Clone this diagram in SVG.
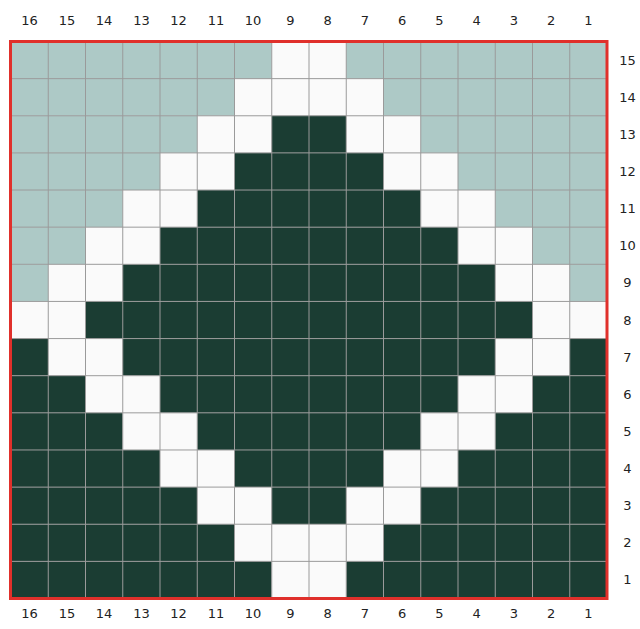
<svg xmlns="http://www.w3.org/2000/svg" width="640" height="629" viewBox="0 0 640 629">
<style>
.t{fill:#adc9c6}
.w{fill:#fafafa}
.d{fill:#1b3d33}
.lbl{font-family:"DejaVu Sans","Liberation Sans",sans-serif;font-size:13px;fill:#222;text-anchor:middle}
.gl{stroke:#9a9a9a;stroke-width:1;fill:none}
</style>
<rect width="640" height="629" fill="#ffffff"/>
<g id="cells">
<!-- row 15 -->
<rect class="t" x="11" y="41.5" width="260.75" height="37.13"/>
<rect class="w" x="271.75" y="41.5" width="74.5" height="37.13"/>
<rect class="t" x="346.25" y="41.5" width="260.75" height="37.13"/>
<!-- row 14 -->
<rect class="t" x="11" y="78.63" width="223.5" height="37.13"/>
<rect class="w" x="234.5" y="78.63" width="149" height="37.13"/>
<rect class="t" x="383.5" y="78.63" width="223.5" height="37.13"/>
<!-- row 13 -->
<rect class="t" x="11" y="115.77" width="186.25" height="37.13"/>
<rect class="w" x="197.25" y="115.77" width="74.5" height="37.13"/>
<rect class="d" x="271.75" y="115.77" width="74.5" height="37.13"/>
<rect class="w" x="346.25" y="115.77" width="74.5" height="37.13"/>
<rect class="t" x="420.75" y="115.77" width="186.25" height="37.13"/>
<!-- row 12 -->
<rect class="t" x="11" y="152.9" width="149" height="37.13"/>
<rect class="w" x="160" y="152.9" width="74.5" height="37.13"/>
<rect class="d" x="234.5" y="152.9" width="149" height="37.13"/>
<rect class="w" x="383.5" y="152.9" width="74.5" height="37.13"/>
<rect class="t" x="458" y="152.9" width="149" height="37.13"/>
<!-- row 11 -->
<rect class="t" x="11" y="190.03" width="111.75" height="37.13"/>
<rect class="w" x="122.75" y="190.03" width="74.5" height="37.13"/>
<rect class="d" x="197.25" y="190.03" width="223.5" height="37.13"/>
<rect class="w" x="420.75" y="190.03" width="74.5" height="37.13"/>
<rect class="t" x="495.25" y="190.03" width="111.75" height="37.13"/>
<!-- row 10 -->
<rect class="t" x="11" y="227.17" width="74.5" height="37.13"/>
<rect class="w" x="85.5" y="227.17" width="74.5" height="37.13"/>
<rect class="d" x="160" y="227.17" width="298" height="37.13"/>
<rect class="w" x="458" y="227.17" width="74.5" height="37.13"/>
<rect class="t" x="532.5" y="227.17" width="74.5" height="37.13"/>
<!-- row 9 -->
<rect class="t" x="11" y="264.3" width="37.25" height="37.13"/>
<rect class="w" x="48.25" y="264.3" width="74.5" height="37.13"/>
<rect class="d" x="122.75" y="264.3" width="372.5" height="37.13"/>
<rect class="w" x="495.25" y="264.3" width="74.5" height="37.13"/>
<rect class="t" x="569.75" y="264.3" width="37.25" height="37.13"/>
<!-- row 8 -->
<rect class="w" x="11" y="301.43" width="74.5" height="37.13"/>
<rect class="d" x="85.5" y="301.43" width="447" height="37.13"/>
<rect class="w" x="532.5" y="301.43" width="74.5" height="37.13"/>
<!-- row 7 -->
<rect class="d" x="11" y="338.57" width="37.25" height="37.13"/>
<rect class="w" x="48.25" y="338.57" width="74.5" height="37.13"/>
<rect class="d" x="122.75" y="338.57" width="372.5" height="37.13"/>
<rect class="w" x="495.25" y="338.57" width="74.5" height="37.13"/>
<rect class="d" x="569.75" y="338.57" width="37.25" height="37.13"/>
<!-- row 6 -->
<rect class="d" x="11" y="375.7" width="74.5" height="37.13"/>
<rect class="w" x="85.5" y="375.7" width="74.5" height="37.13"/>
<rect class="d" x="160" y="375.7" width="298" height="37.13"/>
<rect class="w" x="458" y="375.7" width="74.5" height="37.13"/>
<rect class="d" x="532.5" y="375.7" width="74.5" height="37.13"/>
<!-- row 5 -->
<rect class="d" x="11" y="412.83" width="111.75" height="37.13"/>
<rect class="w" x="122.75" y="412.83" width="74.5" height="37.13"/>
<rect class="d" x="197.25" y="412.83" width="223.5" height="37.13"/>
<rect class="w" x="420.75" y="412.83" width="74.5" height="37.13"/>
<rect class="d" x="495.25" y="412.83" width="111.75" height="37.13"/>
<!-- row 4 -->
<rect class="d" x="11" y="449.97" width="149" height="37.13"/>
<rect class="w" x="160" y="449.97" width="74.5" height="37.13"/>
<rect class="d" x="234.5" y="449.97" width="149" height="37.13"/>
<rect class="w" x="383.5" y="449.97" width="74.5" height="37.13"/>
<rect class="d" x="458" y="449.97" width="149" height="37.13"/>
<!-- row 3 -->
<rect class="d" x="11" y="487.1" width="186.25" height="37.13"/>
<rect class="w" x="197.25" y="487.1" width="74.5" height="37.13"/>
<rect class="d" x="271.75" y="487.1" width="74.5" height="37.13"/>
<rect class="w" x="346.25" y="487.1" width="74.5" height="37.13"/>
<rect class="d" x="420.75" y="487.1" width="186.25" height="37.13"/>
<!-- row 2 -->
<rect class="d" x="11" y="524.23" width="223.5" height="37.13"/>
<rect class="w" x="234.5" y="524.23" width="149" height="37.13"/>
<rect class="d" x="383.5" y="524.23" width="223.5" height="37.13"/>
<!-- row 1 -->
<rect class="d" x="11" y="561.37" width="260.75" height="37.13"/>
<rect class="w" x="271.75" y="561.37" width="74.5" height="37.13"/>
<rect class="d" x="346.25" y="561.37" width="260.75" height="37.13"/>
</g>
<g id="gridlines" class="gl">
<path d="M48.25 41.5V598.5M85.5 41.5V598.5M122.75 41.5V598.5M160 41.5V598.5M197.25 41.5V598.5M234.5 41.5V598.5M271.75 41.5V598.5M309 41.5V598.5M346.25 41.5V598.5M383.5 41.5V598.5M420.75 41.5V598.5M458 41.5V598.5M495.25 41.5V598.5M532.5 41.5V598.5M569.75 41.5V598.5"/>
<path d="M11 78.63H607M11 115.77H607M11 152.9H607M11 190.03H607M11 227.17H607M11 264.3H607M11 301.43H607M11 338.57H607M11 375.7H607M11 412.83H607M11 449.97H607M11 487.1H607M11 524.23H607M11 561.37H607"/>
</g>
<rect id="border" x="10.5" y="41.5" width="596.5" height="557" fill="none" stroke="#e0302b" stroke-width="3"/>
<g id="top-labels" class="lbl">
<text x="29.6" y="24.5">16</text><text x="66.9" y="24.5">15</text><text x="104.1" y="24.5">14</text><text x="141.4" y="24.5">13</text>
<text x="178.6" y="24.5">12</text><text x="215.9" y="24.5">11</text><text x="253.1" y="24.5">10</text><text x="290.4" y="24.5">9</text>
<text x="327.6" y="24.5">8</text><text x="364.9" y="24.5">7</text><text x="402.1" y="24.5">6</text><text x="439.4" y="24.5">5</text>
<text x="476.6" y="24.5">4</text><text x="513.9" y="24.5">3</text><text x="551.1" y="24.5">2</text><text x="588.4" y="24.5">1</text>
</g>
<g id="bottom-labels" class="lbl">
<text x="29.6" y="618">16</text><text x="66.9" y="618">15</text><text x="104.1" y="618">14</text><text x="141.4" y="618">13</text>
<text x="178.6" y="618">12</text><text x="215.9" y="618">11</text><text x="253.1" y="618">10</text><text x="290.4" y="618">9</text>
<text x="327.6" y="618">8</text><text x="364.9" y="618">7</text><text x="402.1" y="618">6</text><text x="439.4" y="618">5</text>
<text x="476.6" y="618">4</text><text x="513.9" y="618">3</text><text x="551.1" y="618">2</text><text x="588.4" y="618">1</text>
</g>
<g id="right-labels" class="lbl">
<text x="627.5" y="64.6">15</text><text x="627.5" y="101.7">14</text><text x="627.5" y="138.8">13</text><text x="627.5" y="176">12</text>
<text x="627.5" y="213.1">11</text><text x="627.5" y="250.2">10</text><text x="627.5" y="287.4">9</text><text x="627.5" y="324.5">8</text>
<text x="627.5" y="361.6">7</text><text x="627.5" y="398.8">6</text><text x="627.5" y="435.9">5</text><text x="627.5" y="473">4</text>
<text x="627.5" y="510.2">3</text><text x="627.5" y="547.3">2</text><text x="627.5" y="584.4">1</text>
</g>
</svg>
